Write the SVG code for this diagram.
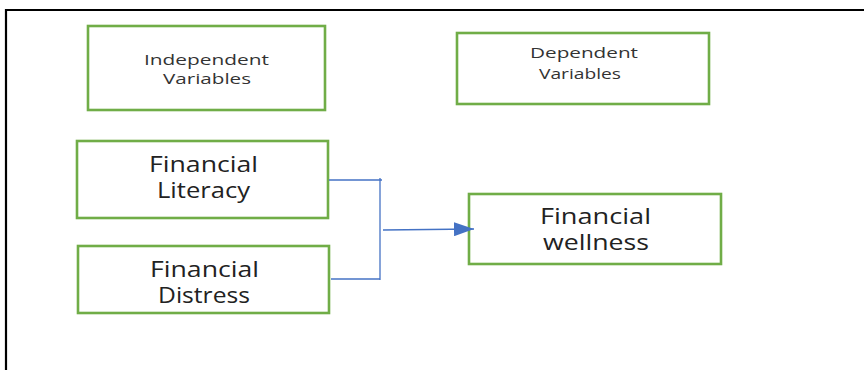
<svg xmlns="http://www.w3.org/2000/svg" width="864" height="370" viewBox="0 0 864 370">
<style>
.box{fill:#fff;stroke:#70AD47;stroke-width:2.6}
.sm{font-family:"Open Sans","Noto Sans",sans-serif;font-size:14px;fill:#333;text-anchor:start}
.lg{font-family:"Open Sans","Noto Sans",sans-serif;font-size:21px;fill:#222;text-anchor:start}
.con{fill:none;stroke:#4472C4;stroke-width:1.3}
</style>
<defs>
<marker id="arr" markerUnits="userSpaceOnUse" markerWidth="20" markerHeight="14" refX="20" refY="7" orient="auto">
<path d="M0,0 L20,7 L0,14 Z" fill="#4472C4"/>
</marker>
</defs>
<rect x="0" y="0" width="864" height="370" fill="#fff"/>
<path d="M6,370 V10 H864" fill="none" stroke="#000" stroke-width="2.2"/>
<g id="independent">
<rect class="box" x="88" y="26" width="237" height="84"/>
<text class="sm" x="144" y="65" textLength="125" lengthAdjust="spacingAndGlyphs">Independent</text>
<text class="sm" x="163" y="84" textLength="88" lengthAdjust="spacingAndGlyphs">Variables</text>
</g>
<g id="dependent">
<rect class="box" x="457" y="33" width="252" height="71"/>
<text class="sm" x="530" y="58" textLength="108" lengthAdjust="spacingAndGlyphs">Dependent</text>
<text class="sm" x="539" y="79" textLength="82" lengthAdjust="spacingAndGlyphs">Variables</text>
</g>
<g id="literacy">
<rect class="box" x="77" y="141" width="251" height="77"/>
<text class="lg" x="149" y="172" textLength="109" lengthAdjust="spacingAndGlyphs">Financial</text>
<text class="lg" x="157" y="198" textLength="93" lengthAdjust="spacingAndGlyphs">Literacy</text>
</g>
<g id="distress">
<rect class="box" x="78" y="246" width="251" height="67"/>
<text class="lg" x="150" y="277" textLength="109" lengthAdjust="spacingAndGlyphs">Financial</text>
<text class="lg" x="158" y="303" textLength="92" lengthAdjust="spacingAndGlyphs">Distress</text>
</g>
<g id="wellness">
<rect class="box" x="469" y="194" width="252" height="70"/>
<text class="lg" x="540" y="224" textLength="111" lengthAdjust="spacingAndGlyphs">Financial</text>
<text class="lg" x="543" y="250" textLength="106" lengthAdjust="spacingAndGlyphs">wellness</text>
</g>
<g id="connectors">
<path class="con" d="M329,180 H382"/>
<path class="con" d="M380,178 V280"/>
<path class="con" d="M331,279 H380"/>
<path class="con" d="M383,230 L474,229" marker-end="url(#arr)"/>
</g>
</svg>
